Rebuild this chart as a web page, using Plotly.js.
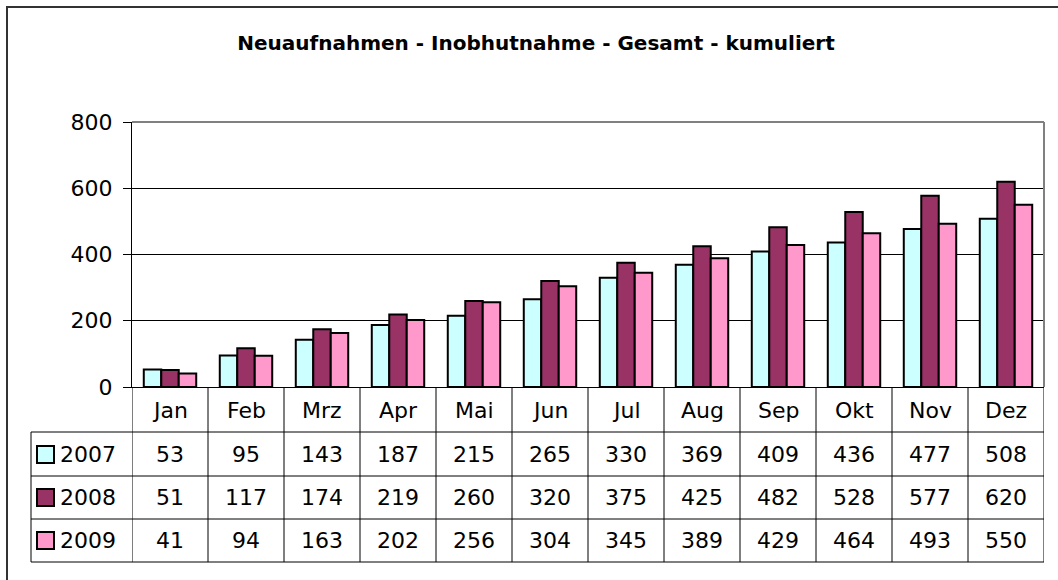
<!DOCTYPE html>
<html>
<head>
<meta charset="utf-8">
<script src="https://cdn.plot.ly/plotly-3.0.1.min.js"></script>
<style>html,body{margin:0;padding:0;background:#fff;}#chart{width:1058px;height:580px;}</style>
</head>
<body>
<div id="chart"></div>
<script>
var months = ["Jan","Feb","Mrz","Apr","Mai","Jun","Jul","Aug","Sep","Okt","Nov","Dez"];
var seriesNames = ["2007","2008","2009"];
var values2007 = [53,95,143,187,215,265,330,369,409,436,477,508];
var values2008 = [51,117,174,219,260,320,375,425,482,528,577,620];
var values2009 = [41,94,163,202,256,304,345,389,429,464,493,550];
var colors = ["#CCFFFF","#993366","#FF99CC"];
var allValues = [values2007, values2008, values2009];

var W = 1058, H = 580;
var L = 132, R = 1044, T = 122, B = 387;
function px(x){ return (x - L) / (R - L); }
function py(y){ return (B - y) / (B - T); }

var FONT = "DejaVu Sans, Liberation Sans, sans-serif";
var FS = 22;

var traces = allValues.map(function(v, i){
  return {
    type: "bar", x: months, y: v, name: seriesNames[i],
    marker: {color: colors[i], line: {color: "#000", width: 2}},
    showlegend: false
  };
});

var shapes = [];
var annotations = [];
// plot area border (top and right, gray)
shapes.push({type:"line", xref:"paper", yref:"paper", x0:0, x1:1, y0:1, y1:1, line:{color:"#808080", width:2}});
shapes.push({type:"line", xref:"paper", yref:"paper", x0:1, x1:1, y0:0, y1:1, line:{color:"#808080", width:2}});
// outer chart border
shapes.push({type:"rect", xref:"paper", yref:"paper", x0:px(7), x1:px(1070), y0:py(7), y1:py(600), line:{color:"#333", width:2}, fillcolor:"rgba(0,0,0,0)"});

// data table
var rowLines = [432, 476, 519, 562];
var rowCenters = [454, 497, 540];
rowLines.forEach(function(y){
  shapes.push({type:"line", xref:"paper", yref:"paper", x0:px(31), x1:1, y0:py(y), y1:py(y), line:{color:"#000", width:1}});
});
shapes.push({type:"line", xref:"paper", yref:"paper", x0:px(31), x1:px(31), y0:py(432), y1:py(562), line:{color:"#000", width:1}});
for (var k = 0; k <= months.length; k++) {
  shapes.push({type:"line", xref:"x", yref:"paper", x0:k-0.5, x1:k-0.5, y0:py(388), y1:py(562), line:{color:"#000", width:1}});
}
months.forEach(function(m, j){
  annotations.push({xref:"x", yref:"paper", x:m, y:py(410), text:m, showarrow:false, font:{family:FONT, size:FS, color:"#000"}, xanchor:"center", yanchor:"middle"});
  allValues.forEach(function(v, i){
    annotations.push({xref:"x", yref:"paper", x:m, y:py(rowCenters[i]), text:String(v[j]), showarrow:false, font:{family:FONT, size:FS, color:"#000"}, xanchor:"center", yanchor:"middle"});
  });
});
seriesNames.forEach(function(n, i){
  var yc = rowCenters[i];
  shapes.push({type:"rect", xref:"paper", yref:"paper", x0:px(37), x1:px(54), y0:py(yc-8), y1:py(yc+9), fillcolor:colors[i], line:{color:"#000", width:2}});
  annotations.push({xref:"paper", yref:"paper", x:px(58), y:py(yc), text:n, showarrow:false, font:{family:FONT, size:FS, color:"#000"}, xanchor:"left", yanchor:"middle"});
});

var layout = {
  width: W, height: H,
  margin: {l: L, r: W - R, t: T, b: H - B, pad: 0},
  paper_bgcolor: "#fff", plot_bgcolor: "#fff",
  title: {text: "Neuaufnahmen - Inobhutnahme - Gesamt - kumuliert", font:{family:FONT, size:20, color:"#000", weight:"bold"}, x: 536/W, xref:"container", xanchor:"center", y: 1 - 43/H, yanchor:"middle"},
  barmode: "group", bargap: 0.31, bargroupgap: 0,
  xaxis: {showticklabels:false, ticks:"", showgrid:false, showline:true, linecolor:"#000", linewidth:1, zeroline:false, range:[-0.5, 11.5]},
  yaxis: {range:[0,800], dtick:200, tick0:0, showgrid:true, gridcolor:"#000", gridwidth:1, showline:true, linecolor:"#000", linewidth:1, ticks:"outside", ticklen:8, tickcolor:"#000", tickfont:{family:FONT, size:FS, color:"#000"}, zeroline:false, ticklabelstandoff:6},
  shapes: shapes,
  annotations: annotations,
  hovermode: false
};

Plotly.newPlot("chart", traces, layout, {displayModeBar:false, staticPlot:true});
</script>
</body>
</html>
